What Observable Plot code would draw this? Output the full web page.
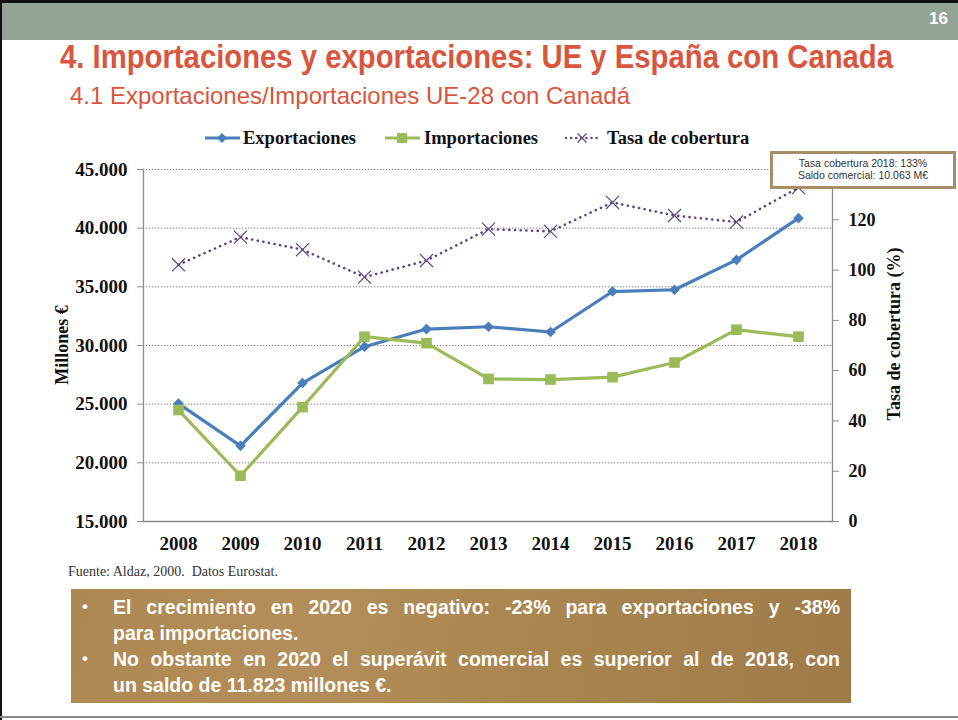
<!DOCTYPE html>
<html><head><meta charset="utf-8">
<script src="https://cdn.jsdelivr.net/npm/d3@7"></script>
<script src="https://cdn.jsdelivr.net/npm/@observablehq/plot@0.6"></script>
<style>
body{margin:0;background:#fff;}
#slide{position:relative;width:958px;height:720px;overflow:hidden;background:#fff;}
.abs{position:absolute;white-space:nowrap;}
#frameTop{left:0;top:0;width:958px;height:3px;background:#111;}
#frameLeft{left:0;top:0;width:2px;height:720px;background:#111;}
#header{left:2px;top:3px;width:956px;height:37px;background:#93a396;}
#pagenum{right:10px;top:9px;font:bold 17px "Liberation Sans",Arial,sans-serif;color:#fff;}
#title{left:60px;top:38px;font:bold 33px "Liberation Sans",Arial,sans-serif;color:#d9553d;transform-origin:0 0;}
#subtitle{left:70px;top:82px;font:24px "Liberation Sans",Arial,sans-serif;color:#d9553d;transform-origin:0 0;}
.leg{position:absolute;top:128px;font:bold 18.5px "Liberation Serif","Times New Roman",serif;color:#111;line-height:20px;}
.axt{position:absolute;font:bold 18px "Liberation Serif","Times New Roman",serif;color:#111;transform:translate(-50%,-50%) rotate(-90deg);white-space:nowrap;}
#note{left:770px;top:151px;width:180px;height:29px;border:3px solid #a88e66;background:#fff;font:10.5px "Liberation Sans",Arial,sans-serif;color:#333;text-align:center;line-height:12px;padding-top:3px;box-sizing:content-box;}
#source{left:68px;top:564px;font:14px "Liberation Serif","Times New Roman",serif;color:#333;}
#box{left:71px;top:589px;width:780px;height:114px;background:linear-gradient(100deg,#ad8852 0%,#b38e5a 30%,#a9854f 60%,#9f7b4a 100%);}
.bl{position:absolute;left:113px;width:727px;font:bold 19.5px "Liberation Sans",Arial,sans-serif;color:#fff;white-space:nowrap;}
.just{text-align:justify;text-align-last:justify;white-space:normal;}
.bul{position:absolute;left:82px;font:bold 17px "Liberation Sans",Arial,sans-serif;color:#fff;}
#bottomline{left:0;top:716px;width:958px;height:2px;background:#8a8a8a;}
#chart{position:absolute;left:0;top:0;}
</style></head><body><div id="slide">
<div class="abs" id="frameTop"></div>
<div class="abs" id="header"></div>
<div class="abs" id="frameLeft"></div>
<div class="abs" id="pagenum">16</div>
<div class="abs" id="title">4. Importaciones y exportaciones: UE y España con Canada</div>
<div class="abs" id="subtitle">4.1 Exportaciones/Importaciones UE-28 con Canadá</div>
<div id="chart"></div>
<div id="legend"></div>
<div class="axt" style="left:62px;top:345px;">Millones €</div>
<div class="axt" style="left:894px;top:334px;">Tasa de cobertura (%)</div>
<div class="abs" id="note">Tasa cobertura 2018: 133%<br>Saldo comercial: 10.063 M€</div>
<div class="abs" id="source">Fuente: Aldaz, 2000.&nbsp; Datos Eurostat.</div>
<div class="abs" id="box"></div>
<div class="bul" style="top:597px;">•</div>
<div class="bl just" style="top:596px;">El crecimiento en 2020 es negativo: -23% para exportaciones y -38%</div>
<div class="bl" style="top:622px;">para importaciones.</div>
<div class="bul" style="top:649px;">•</div>
<div class="bl just" style="top:648px;">No obstante en 2020 el superávit comercial es superior al de 2018, con</div>
<div class="bl" style="top:674px;">un saldo de 11.823 millones €.</div>
<div class="abs" id="bottomline"></div>
</div>
<script>
// ---- data ----
const years = [2008, 2009, 2010, 2011, 2012, 2013, 2014, 2015, 2016, 2017, 2018];
const exportaciones = [25050, 21450, 26800, 29900, 31400, 31600, 31150, 34600, 34750, 37300, 40850];
const importaciones = [24500, 18900, 24750, 30750, 30200, 27150, 27100, 27300, 28550, 31350, 30750];
const tasaCobertura = [102.1, 113.1, 108.1, 97.2, 103.8, 116.3, 115.4, 126.9, 121.7, 119.1, 132.8];
const leftTicks = [15000, 20000, 25000, 30000, 35000, 40000, 45000];
const rightTicks = [0, 20, 40, 60, 80, 100, 120];
const rightMax = 140;
const seriesNames = ["Exportaciones", "Importaciones", "Tasa de cobertura"];
const colors = {exp: "#4a7ebb", imp: "#9bbb59", tasa: "#5b4680"};

// map secondary (right) axis values into primary scale domain
const yMin = leftTicks[0], yMax = leftTicks[leftTicks.length - 1];
const toLeft = t => yMin + t * (yMax - yMin) / rightMax;
const fromLeft = v => Math.round((v - yMin) * rightMax / (yMax - yMin));

const rows = years.map((y, i) => ({
  year: String(y), exp: exportaciones[i], imp: importaciones[i], tasa: toLeft(tasaCobertura[i])
}));
const fmtES = d => d3.format(",")(d).replace(/,/g, ".");

const chart = Plot.plot({
  width: 958, height: 560,
  marginLeft: 143, marginRight: 126, marginTop: 169, marginBottom: 39,
  style: {fontFamily: "'Liberation Serif','Times New Roman',serif", fontSize: "19px", fontWeight: "bold", color: "#111", background: "transparent", overflow: "visible"},
  x: {type: "point", domain: years.map(String), padding: 0.5},
  y: {domain: [yMin, yMax]},
  marks: [
    Plot.gridY(leftTicks.slice(1), {stroke: "#7f7f7f", strokeOpacity: 1, strokeWidth: 1, strokeDasharray: "1.3,1.7"}),
    Plot.frame({anchor: "left", stroke: "#8c8c8c", strokeWidth: 1.3}),
    Plot.frame({anchor: "right", stroke: "#8c8c8c", strokeWidth: 1.3}),
    Plot.frame({anchor: "bottom", stroke: "#8c8c8c", strokeWidth: 1.3}),
    Plot.axisY(leftTicks, {anchor: "left", tickFormat: fmtES, tickSize: 6, tickPadding: 10, stroke: "#8c8c8c", fill: "#111", label: null}),
    Plot.axisY(rightTicks.map(toLeft), {anchor: "right", tickFormat: fromLeft, tickSize: 6, tickPadding: 10, stroke: "#8c8c8c", fill: "#111", fontSize: 18, label: null}),
    Plot.axisX({tickSize: 0, tickPadding: 15, fill: "#111", label: null}),
    Plot.line(rows, {x: "year", y: "exp", stroke: colors.exp, strokeWidth: 3.2}),
    Plot.dot(rows, {x: "year", y: "exp", symbol: "diamond2", r: 4.8, fill: colors.exp, stroke: "none"}),
    Plot.line(rows, {x: "year", y: "imp", stroke: colors.imp, strokeWidth: 3.2}),
    Plot.dot(rows, {x: "year", y: "imp", symbol: "square", r: 6, fill: colors.imp, stroke: "none"}),
    Plot.line(rows, {x: "year", y: "tasa", stroke: colors.tasa, strokeWidth: 2.6, strokeDasharray: "0.1,5.6", strokeLinecap: "round"}),
    Plot.dot(rows, {x: "year", y: "tasa", symbol: "times", r: 6, stroke: colors.tasa, strokeWidth: 1.2})
  ]
});
document.getElementById("chart").appendChild(chart);

// legend
const legendItems = [
  {name: seriesNames[0], color: colors.exp, x: 205, text: 243, kind: "diamond"},
  {name: seriesNames[1], color: colors.imp, x: 385, text: 424, kind: "square"},
  {name: seriesNames[2], color: colors.tasa, x: 565, text: 607, kind: "times"}
];
const lg = document.getElementById("legend");
for (const it of legendItems) {
  const ns = "http://www.w3.org/2000/svg";
  const s = document.createElementNS(ns, "svg");
  s.setAttribute("width", 36); s.setAttribute("height", 20);
  s.style.position = "absolute"; s.style.left = it.x + "px"; s.style.top = "128px";
  let inner = "";
  if (it.kind === "times") {
    inner = `<line x1="1" y1="10" x2="35" y2="10" stroke="${it.color}" stroke-width="2.4" stroke-dasharray="0.1,5" stroke-linecap="round"/>` +
      `<path d="M12.5,5.5L21.5,14.5M21.5,5.5L12.5,14.5" stroke="${it.color}" stroke-width="1.2"/>`;
  } else {
    inner = `<line x1="0" y1="10" x2="35" y2="10" stroke="${it.color}" stroke-width="3.2"/>`;
    inner += it.kind === "diamond"
      ? `<path d="M17,5L22,10L17,15L12,10Z" fill="${it.color}"/>`
      : `<rect x="12" y="5" width="10" height="10" fill="${it.color}"/>`;
  }
  s.innerHTML = inner;
  lg.appendChild(s);
  const t = document.createElement("div");
  t.className = "leg"; t.style.left = it.text + "px"; t.textContent = it.name;
  lg.appendChild(t);
}

// condensed title fonts (narrow face emulation)
function fitWidth(id, target) {
  const el = document.getElementById(id);
  const w = el.getBoundingClientRect().width;
  el.style.transform = `scaleX(${target / w})`;
}
fitWidth("title", 833);
fitWidth("subtitle", 560);
</script>
</body></html>
